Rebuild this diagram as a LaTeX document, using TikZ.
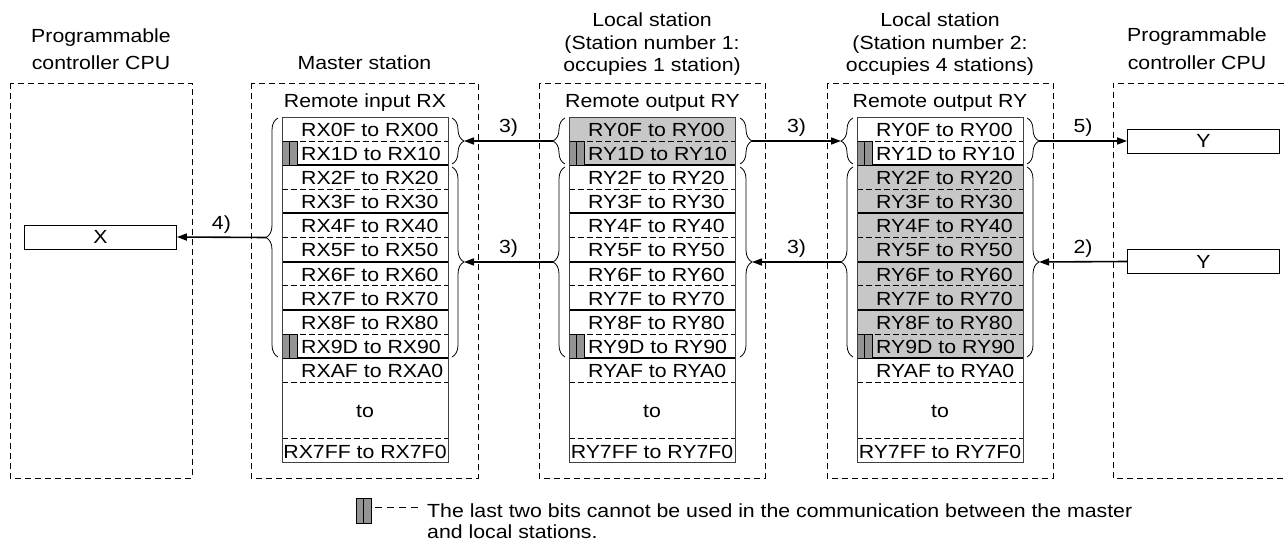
\documentclass[tikz,border=0pt]{standalone}
\usepackage{fontspec}
\setmainfont{Liberation Sans}[FakeStretch=1.12]
\usetikzlibrary{arrows.meta,decorations.pathreplacing}

\tikzset{
  stationframe/.style={draw=black, line width=0.8pt, dash pattern=on 6pt off 4pt},
  stationtitle/.style={anchor=base, inner sep=0pt},
  regtext/.style={anchor=base west, inner sep=0pt},
  regframe/.style={draw=black!75, line width=0.9pt},
  sepsolid/.style={draw=black, line width=2pt},
  sepdash/.style={draw=black, line width=0.8pt, dash pattern=on 6pt off 3pt},
  markbar/.style={fill=\cclMarkColor, draw=black, line width=0.8pt},
  regbrace/.style={draw=black, line width=0.8pt, decorate, decoration={brace, amplitude=12pt}},
  flowarrow/.style={draw=black, line width=1.6pt, -{Triangle[length=10pt,width=7pt]}},
  flowlabel/.style={anchor=base, inner sep=0pt, yshift=8pt},
  iobox/.style={draw=black, line width=0.8pt, minimum width=152pt, minimum height=24pt, inner sep=0pt},
}

\begin{document}
\begin{tikzpicture}[x=1pt, y=-1pt, font=\fontsize{19pt}{23pt}\selectfont]
% CC-Link register map, pixel grid of the figure
\def\rowh{24.1}
\providecommand{\cclShadeColor}{black!22}
\providecommand{\cclMarkColor}{black!42}
\useasboundingbox (0,0) rectangle (1284,545);
% Station frames
\draw[stationframe] (10,83) rectangle (192,478);
\draw[stationframe] (251,83) rectangle (478,478);
\draw[stationframe] (539,83) rectangle (765,478);
\draw[stationframe] (827,83) rectangle (1053,478);
\draw[stationframe] (1284,83) -- (1113,83) -- (1113,478) -- (1284,478);
% Station titles
\node[stationtitle] (cpuLTitleA) at (101,43) {Programmable};
\node[stationtitle] (cpuLTitleB) at (101,70) {controller CPU};
\node[stationtitle] (mstTitle) at (364.5,70) {Master station};
\node[stationtitle] (locATitleA) at (652,27) {Local station};
\node[stationtitle] (locATitleB) at (652,50) {(Station number 1:};
\node[stationtitle] (locATitleC) at (652,72) {occupies 1 station)};
\node[stationtitle] (locBTitleA) at (940,27) {Local station};
\node[stationtitle] (locBTitleB) at (940,50) {(Station number 2:};
\node[stationtitle] (locBTitleC) at (940,72) {occupies 4 stations)};
\node[stationtitle] (cpuRTitleA) at (1197,42) {Programmable};
\node[stationtitle] (cpuRTitleB) at (1197,70) {controller CPU};
\node[stationtitle] (mstArea) at (365,108) {Remote input RX};
\node[stationtitle] (locAArea) at (652.5,108) {Remote output RY};
\node[stationtitle] (locBArea) at (940,108) {Remote output RY};
% Shaded registers
\fill[\cclShadeColor] (569,117) rectangle (735,165.2);
\fill[\cclShadeColor] (857,165.2) rectangle (1023,358);
% Register tables
\foreach \tx/\tp/\tn in {282/X/mst,569/Y/locA,857/Y/locB}{
  \begin{scope}[xshift=\tx pt]
    \foreach \yy in {141.1,189.3,237.5,285.7,333.9,382.1,438}
      \draw[sepdash] (0,\yy) -- (166,\yy);
    \foreach \yy in {165.2,213.4,261.6,309.8,358}
      \draw[sepsolid] (0,\yy) -- (166,\yy);
    % last two bits
    \foreach \yy in {141.1,333.9}{
      \filldraw[markbar] (0,\yy) rectangle ++(7.5,\rowh);
      \filldraw[markbar] (7.5,\yy) rectangle ++(7.5,\rowh);
    }
    \draw[regframe] (0,117) rectangle (166,462);
    \foreach \hi/\lo [count=\i] in {0F/00,1D/10,2F/20,3F/30,4F/40,5F/50,6F/60,7F/70,8F/80,9D/90,AF/A0}
      \node[regtext] (\tn Row\i) at (19,{117+\i*\rowh-4.6}) {R\tp\hi{} to R\tp\lo};
    \node[stationtitle] (\tn To) at (83,417) {to};
    \node[stationtitle] (\tn Last) at (83,458) {R\tp7FF to R\tp7F0};
  \end{scope}
}
% Braces
\draw[regbrace] (278,357) -- (278,118);
\coordinate (mstBraceL) at (266,237.5);
\draw[regbrace] (452,118) -- (452,164);
\coordinate (mstBraceRA) at (464,141);
\draw[regbrace] (452,167) -- (452,357);
\coordinate (mstBraceRB) at (464,262);
\draw[regbrace] (565,164) -- (565,118);
\coordinate (locABraceLA) at (553,141);
\draw[regbrace] (565,357) -- (565,167);
\coordinate (locABraceLB) at (553,262);
\draw[regbrace] (740,118) -- (740,164);
\coordinate (locABraceRA) at (752,141);
\draw[regbrace] (740,167) -- (740,357);
\coordinate (locABraceRB) at (752,262);
\draw[regbrace] (853,164) -- (853,118);
\coordinate (locBBraceLA) at (841,141);
\draw[regbrace] (853,357) -- (853,167);
\coordinate (locBBraceLB) at (841,262);
\draw[regbrace] (1027,118) -- (1027,164);
\coordinate (locBBraceRA) at (1039,141);
\draw[regbrace] (1027,167) -- (1027,357);
\coordinate (locBBraceRB) at (1039,262);
% Device boxes
\node[iobox] (cpuX) at (100.5,237) {X};
\node[iobox] (cpuYOut) at (1203.5,141) {Y};
\node[iobox] (cpuYIn) at (1203.5,261.5) {Y};
% Transfers
\draw[flowarrow] (locABraceLA) -- node[flowlabel] (flowA) {3)} (mstBraceRA);
\draw[flowarrow] (locABraceLB) -- node[flowlabel] (flowB) {3)} (mstBraceRB);
\draw[flowarrow] (locABraceRA) -- node[flowlabel] (flowC) {3)} (locBBraceLA);
\draw[flowarrow] (locBBraceLB) -- node[flowlabel] (flowD) {3)} (locABraceRB);
\draw[flowarrow] (mstBraceL) -- node[flowlabel] (flowE) {4)} (cpuX.east);
\draw[flowarrow] (locBBraceRA) -- node[flowlabel] (flowF) {5)} (cpuYOut.west);
\draw[flowarrow] (cpuYIn.west) -- node[flowlabel] (flowG) {2)} (locBBraceRB);
% Legend
\filldraw[markbar] (356,498) rectangle (363.5,523);
\filldraw[markbar] (363.5,498) rectangle (371,523);
\draw[line width=0.8pt, dash pattern=on 7pt off 5pt] (375,507) -- (418,507);
\node[regtext] (noteA) at (427,517) {The last two bits cannot be used in the communication between the master};
\node[regtext] (noteB) at (427,538) {and local stations.};
\end{tikzpicture}
\end{document}
